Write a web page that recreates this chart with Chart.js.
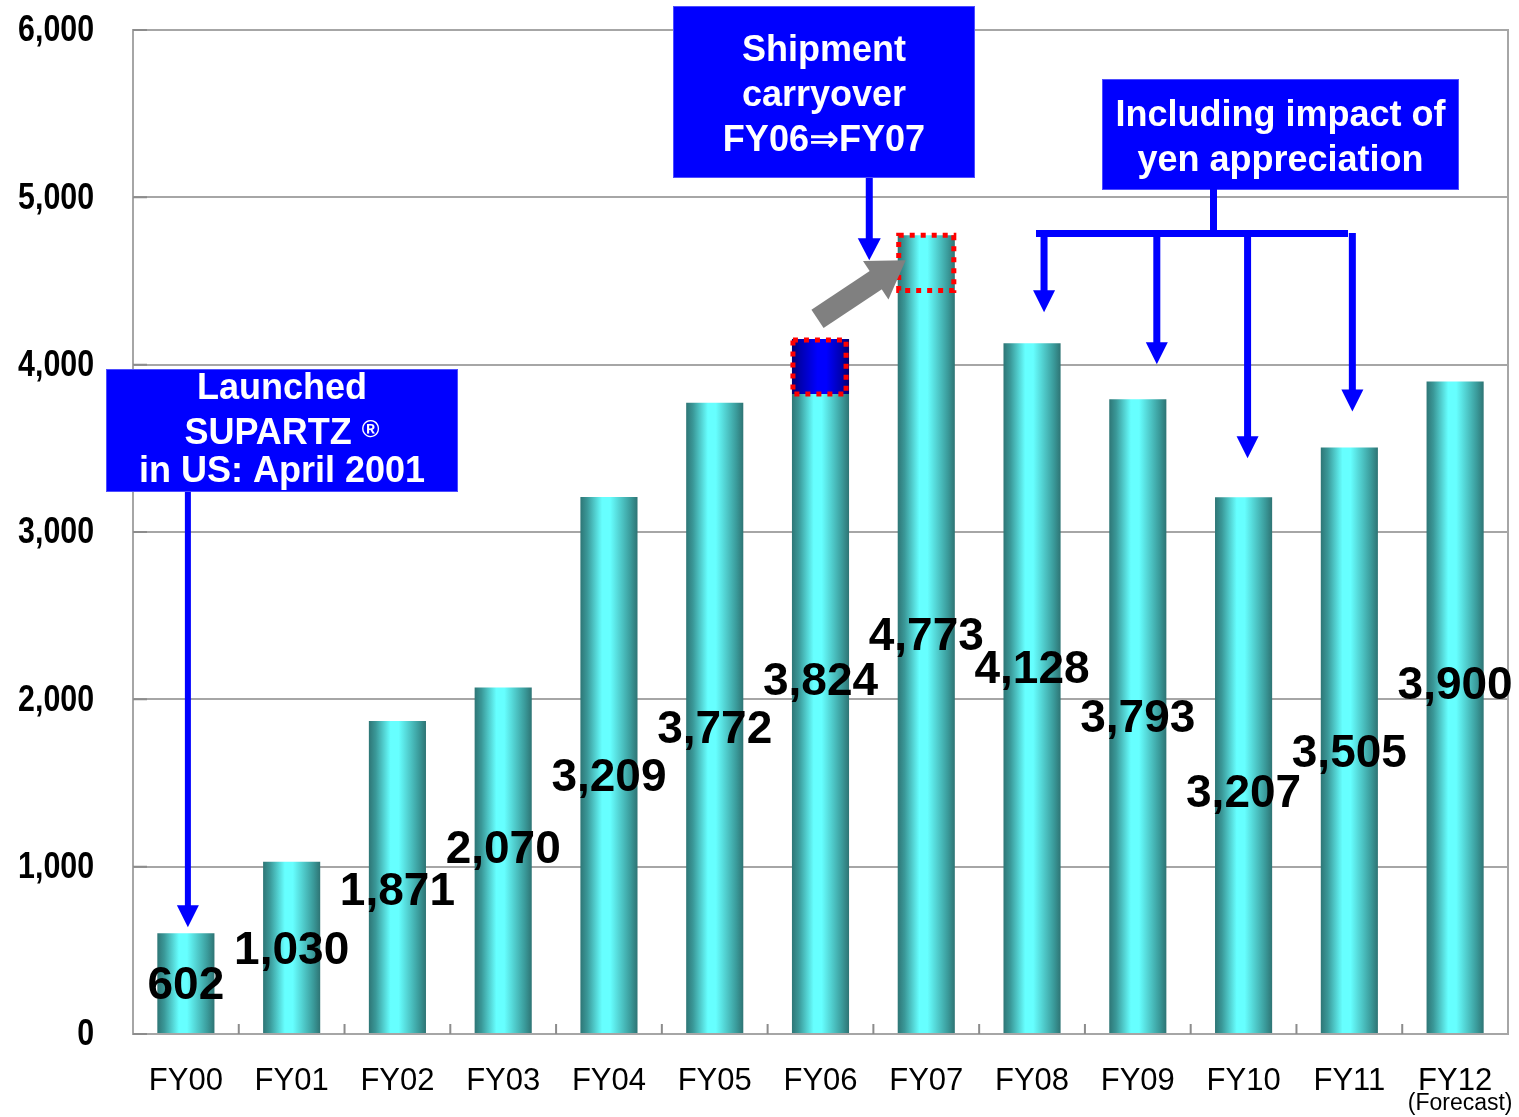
<!DOCTYPE html>
<html>
<head>
<meta charset="utf-8">
<script src="https://cdn.jsdelivr.net/npm/chart.js@4/dist/chart.umd.min.js"></script>
<style>
html,body{margin:0;padding:0;background:#ffffff;}
canvas{display:block;}
</style>
</head>
<body>
<canvas id="c" width="1519" height="1117"></canvas>
<script>
// ---- data ----
const categories = ['FY00','FY01','FY02','FY03','FY04','FY05','FY06','FY07','FY08','FY09','FY10','FY11','FY12'];
const sales = [602, 1030, 1871, 2070, 3209, 3772, 3824, 4773, 4128, 3793, 3207, 3505, 3900];
const carryover = [null, null, null, null, null, null, 330, null, null, null, null, null, null];
const yTickValues = [0, 1000, 2000, 3000, 4000, 5000, 6000];
const forecastNote = '(Forecast)';
const noteLaunch = ['Launched', 'SUPARTZ', 'in US: April 2001'];
const noteShipment = ['Shipment', 'carryover', 'FY06\u21D2FY07'];
const noteYen = ['Including impact of', 'yen appreciation'];
const yenCategories = ['FY08', 'FY09', 'FY10', 'FY11'];

// ---- styling helpers ----
const FONT = '"Liberation Sans", Arial, "DejaVu Sans", sans-serif';
const tealStops = [[0,'#2e7676'],[0.12,'#3a9898'],[0.38,'#66ffff'],[0.52,'#66ffff'],[0.88,'#3a9a9a'],[1,'#2e7474']];
const blueStops = [[0,'#000070'],[0.15,'#0000b0'],[0.45,'#0000ff'],[0.6,'#0000ff'],[0.88,'#0000a8'],[1,'#000070']];
const labelNudge = [3, 3, 15, -10, 13, 12, -32, 3, -18, 3, 29, 14, -21];

const barShade = {
  id: 'barShade',
  beforeDatasetsDraw(chart) {
    const ctx = chart.ctx;
    chart.data.datasets.forEach((ds, di) => {
      const meta = chart.getDatasetMeta(di);
      meta.data.forEach(el => {
        if (!isFinite(el.x) || !isFinite(el.width)) return;
        const half = el.width / 2;
        const g = ctx.createLinearGradient(el.x - half, 0, el.x + half, 0);
        (di === 0 ? tealStops : blueStops).forEach(([o, c]) => g.addColorStop(o, c));
        el.options = Object.assign({}, el.options, { backgroundColor: g });
      });
    });
  }
};

function dottedRect(ctx, x0, y0, x1, y1) {
  ctx.save();
  ctx.strokeStyle = '#ff0000';
  ctx.lineWidth = 5;
  ctx.setLineDash([5, 6]);
  ctx.strokeRect(x0, y0, x1 - x0, y1 - y0);
  ctx.restore();
}

function arrow(ctx, x0, y0, x1, y1, shaftW, headW, headL, color) {
  const ang = Math.atan2(y1 - y0, x1 - x0);
  const len = Math.hypot(x1 - x0, y1 - y0);
  ctx.save();
  ctx.translate(x0, y0);
  ctx.rotate(ang);
  ctx.fillStyle = color;
  ctx.fillRect(0, -shaftW / 2, len - headL + 1, shaftW);
  ctx.beginPath();
  ctx.moveTo(len, 0);
  ctx.lineTo(len - headL, -headW / 2);
  ctx.lineTo(len - headL, headW / 2);
  ctx.closePath();
  ctx.fill();
  ctx.restore();
}

function textBox(ctx, x0, y0, x1, y1, lines, ys, size) {
  ctx.save();
  ctx.fillStyle = '#0000ff';
  ctx.fillRect(x0, y0, x1 - x0, y1 - y0);
  ctx.strokeStyle = '#4d4dff';
  ctx.lineWidth = 1;
  ctx.strokeRect(x0 + 0.5, y0 + 0.5, x1 - x0 - 1, y1 - y0 - 1);
  ctx.fillStyle = '#ffffff';
  ctx.font = 'bold ' + size + 'px ' + FONT;
  ctx.textAlign = 'center';
  ctx.textBaseline = 'middle';
  const cx = (x0 + x1) / 2;
  lines.forEach((t, i) => ctx.fillText(t, cx, ys[i]));
  ctx.restore();
}

const overlay = {
  id: 'overlay',
  afterDatasetsDraw(chart) {
    const ctx = chart.ctx;
    const ys = chart.scales.y;
    const xs = chart.scales.x;
    const area = chart.chartArea;
    const meta0 = chart.getDatasetMeta(0);
    // inward tick marks and right border
    ctx.save();
    ctx.strokeStyle = '#8c8c8c';
    ctx.lineWidth = 2;
    ctx.beginPath();
    yTickValues.forEach(v => {
      const y = ys.getPixelForValue(v);
      ctx.moveTo(area.left, y); ctx.lineTo(area.left + 14, y);
    });
    for (let i = 0; i < categories.length - 1; i++) {
      const x = (xs.getPixelForValue(i) + xs.getPixelForValue(i + 1)) / 2;
      ctx.moveTo(x, area.bottom); ctx.lineTo(x, area.bottom - 10);
    }
    ctx.stroke();
    ctx.strokeStyle = '#a6a6a6';
    ctx.beginPath();
    ctx.moveTo(area.right, area.top - 1); ctx.lineTo(area.right, area.bottom + 1);
    ctx.stroke();
    ctx.restore();

    // y tick labels (condensed bold)
    ctx.save();
    ctx.fillStyle = '#000000';
    ctx.font = 'bold 37px ' + FONT;
    ctx.textAlign = 'right';
    ctx.textBaseline = 'middle';
    yTickValues.forEach(v => {
      const y = ys.getPixelForValue(v);
      ctx.save();
      ctx.translate(94, y + 1);
      ctx.scale(0.82, 1);
      ctx.fillText(v.toLocaleString('en-US'), 0, 0);
      ctx.restore();
    });
    ctx.restore();

    // data labels
    ctx.save();
    ctx.fillStyle = '#000000';
    ctx.font = 'bold 46px ' + FONT;
    ctx.textAlign = 'center';
    ctx.textBaseline = 'middle';
    sales.forEach((v, i) => {
      const x = xs.getPixelForValue(i);
      const y = ys.getPixelForValue(v / 2) + labelNudge[i];
      ctx.fillText(v.toLocaleString('en-US'), x, y);
    });
    ctx.restore();

    // carryover boxes
    const i06 = categories.indexOf('FY06');
    const i07 = categories.indexOf('FY07');
    const el06 = chart.getDatasetMeta(1).data[i06];
    const w = el06.width;
    const topBlue = el06.y;
    const bottomBlue = el06.base;
    dottedRect(ctx, el06.x - w / 2 + 1, topBlue + 1, el06.x + w / 2 - 3, bottomBlue);
    const el07 = meta0.data[i07];
    const t07 = ys.getPixelForValue(sales[i07]);
    const b07 = ys.getPixelForValue(sales[i07] - carryover[i06]);
    dottedRect(ctx, el07.x - w / 2 + 1, t07, el07.x + w / 2 - 1, b07);
    // gray arrow FY06 -> FY07
    arrow(ctx, el06.x - 3, topBlue - 20, el07.x - w / 2 + 8, t07 + 25, 22, 46, 36, '#808080');
  },
  afterDraw(chart) {
    const ctx = chart.ctx;
    const xs = chart.scales.x;
    const meta0 = chart.getDatasetMeta(0);
    const BLUE = '#0000ff';

    // Launch note
    const x00 = xs.getPixelForValue(0) + 2;
    arrow(ctx, x00, 492, x00, meta0.data[0].y - 6, 6, 22, 22, BLUE);
    textBox(ctx, 106, 369, 458, 492, ['Launched', '', 'in US: April 2001'], [389, 434, 472], 36);
    ctx.save();
    ctx.fillStyle = '#ffffff';
    ctx.textBaseline = 'middle';
    ctx.textAlign = 'left';
    ctx.font = 'bold 36px ' + FONT;
    const w1 = ctx.measureText(noteLaunch[1] + ' ').width;
    ctx.font = 'bold 24px ' + FONT;
    const w2 = ctx.measureText('\u00AE').width;
    const sx = 282 - (w1 + w2) / 2;
    ctx.font = 'bold 36px ' + FONT;
    ctx.fillText(noteLaunch[1], sx, 434);
    ctx.font = 'bold 24px ' + FONT;
    ctx.fillText('\u00AE', sx + w1, 430);
    ctx.restore();

    // Shipment note
    const i07 = categories.indexOf('FY07');
    const el07 = meta0.data[i07];
    arrow(ctx, el07.x - 57, 178, el07.x - 57, el07.y + 25, 7, 23, 22, BLUE);
    textBox(ctx, 673, 6, 975, 178, noteShipment, [51, 96, 141], 36);

    // Yen note
    textBox(ctx, 1102, 79, 1459, 190, noteYen, [116, 161], 36);
    ctx.save();
    ctx.fillStyle = BLUE;
    ctx.fillRect(1210, 189, 7, 44);
    ctx.fillRect(1036, 230, 312, 7);
    ctx.restore();
    const yenDx = [12, 19, 4, 3];
    const yenGap = [31, 35, 39, 36];
    yenCategories.forEach((c, k) => {
      const i = categories.indexOf(c);
      const el = meta0.data[i];
      const x = el.x + yenDx[k];
      arrow(ctx, x, k === 3 ? 233 : 234, x, el.y - yenGap[k], 7, 22, 22, BLUE);
    });

    // Forecast note
    ctx.save();
    ctx.fillStyle = '#000000';
    ctx.font = '23px ' + FONT;
    ctx.textAlign = 'center';
    ctx.textBaseline = 'middle';
    ctx.fillText(forecastNote, xs.getPixelForValue(categories.length - 1) + 5, 1104);
    ctx.restore();
  }
};

new Chart(document.getElementById('c'), {
  type: 'bar',
  data: {
    labels: categories,
    datasets: [
      { data: sales, backgroundColor: '#4fd0d0', borderWidth: 0, stack: 's' },
      { data: carryover, backgroundColor: '#0000ff', borderWidth: 0, stack: 's' }
    ]
  },
  options: {
    responsive: false,
    devicePixelRatio: 1,
    animation: false,
    events: [],
    layout: { padding: { top: 30, right: 11, left: 0, bottom: 0 } },
    plugins: { legend: { display: false }, tooltip: { enabled: false } },
    datasets: { bar: { categoryPercentage: 1, barPercentage: 0.54 } },
    scales: {
      x: {
        stacked: true,
        grid: { display: false, drawTicks: false },
        border: { display: true, color: '#a6a6a6', width: 2 },
        ticks: { color: '#000000', font: { family: FONT, size: 31 }, padding: 29, maxRotation: 0, autoSkip: false },
        afterFit(s) { s.height = 83; s.paddingLeft = 0; s.paddingRight = 0; }
      },
      y: {
        stacked: true,
        min: 0, max: 6000,
        afterBuildTicks(s) { s.ticks = yTickValues.map(v => ({ value: v })); },
        grid: { color: '#a6a6a6', lineWidth: 2, drawTicks: false },
        border: { display: true, color: '#a6a6a6', width: 2 },
        ticks: { display: false },
        afterFit(s) { s.width = 133; s.paddingTop = 0; s.paddingBottom = 0; }
      }
    }
  },
  plugins: [barShade, overlay]
});
</script>
</body>
</html>
